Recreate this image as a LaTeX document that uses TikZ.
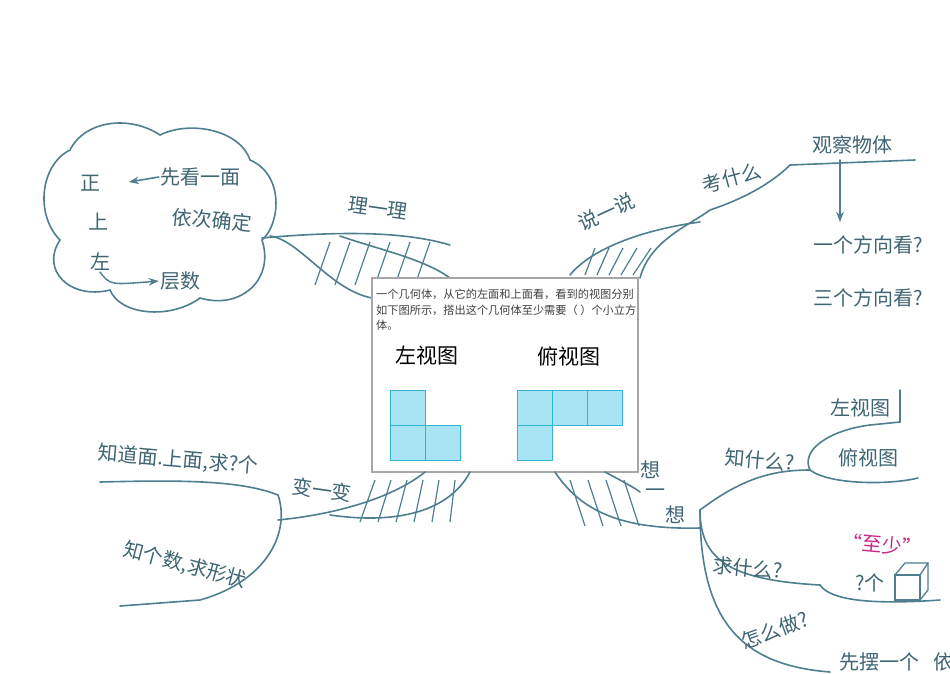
\documentclass[tikz,border=0pt]{standalone}
\usepackage{fontspec}
\setmainfont{Noto Sans CJK SC}
\usetikzlibrary{arrows.meta,patterns}
\definecolor{ink}{HTML}{4F7E90}
\definecolor{cub}{HTML}{A9E4F5}
\definecolor{cubd}{HTML}{2FB3D6}
\begin{document}
\begin{tikzpicture}[x=1pt,y=-1pt,
  br/.style={draw=ink,line width=1.6pt,line cap=round},
  hat/.style={draw=ink,line width=1.2pt},
  tx/.style={text=ink!80!black,font=\fontsize{20}{20}\selectfont,inner sep=1pt},
  cell/.style={draw=cubd,fill=cub,line width=1pt,minimum size=35pt,inner sep=0pt}]
\useasboundingbox (0,0) rectangle (950,673);
\fill[white] (0,0) rectangle (950,673);
% cloud
\draw[br] (70,150) .. controls (85,120) and (130,115) .. (160,135)
 .. controls (190,120) and (240,130) .. (250,160)
 .. controls (285,175) and (280,225) .. (262,240)
 .. controls (275,280) and (240,310) .. (200,298)
 .. controls (170,320) and (120,315) .. (110,290)
 .. controls (70,300) and (40,270) .. (60,240)
 .. controls (35,215) and (40,165) .. (70,150) -- cycle;
\node[tx] (zheng) at (90,183) {正};
\node[tx] (xk) at (200,177) {先看一面};
\draw[br,-{Stealth}] (xk.west) -- ++(-30,5);
\node[tx] (shang) at (98,222) {上};
\node[tx] (yc) at (212,220) [rotate=-5] {依次确定};
\node[tx] (zuo) at (100,262) {左};
\node[tx] (cs) at (180,281) {层数};
\draw[br,densely dotted,-{Stealth}] (zuo.south) .. controls (110,285) .. (cs.west);
% 理一理 branch
\node[tx] (lyl) at (378,208) [rotate=-8] {理一理};
\draw[br] (262,238) .. controls (330,232) and (400,230) .. (450,245);
\draw[br] (270,236) .. controls (300,240) and (330,290) .. (372,298);
\draw[br] (340,236) .. controls (380,250) and (430,260) .. (455,282);
\foreach \i in {0,...,5}{\draw[hat] (315+\i*20,285) -- (330+\i*20,242);}
% center box
\fill[white] (372,278) rectangle (638,472);
% 说一说 branch
\node[tx] (sys) at (606,212) [rotate=25] {说一说};
\node[tx] (ksm) at (732,178) [rotate=15] {考什么};
\node[tx] (gc) at (852,145) {观察物体};
\draw[br] (640,278) .. controls (650,240) and (690,225) .. (710,210)
 .. controls (740,200) and (770,185) .. (790,165) -- (915,160);
\draw[br] (570,275) .. controls (590,250) and (640,230) .. (700,222);
\foreach \i in {0,...,4}{\draw[hat] (585+\i*12,275) -- (595+\i*14,248);}
\node[tx] (yg) at (868,245) {一个方向看?};
\node[tx] (sg) at (868,298) {三个方向看?};
\draw[br,-{Stealth}] (840,160) -- (840,222);
% box
\draw[gray!70,line width=1.3pt] (372,278) rectangle (638,472);
\node[anchor=north west,align=left,font=\fontsize{11.2}{15.5}\selectfont,text=black!75,inner sep=0pt] (q) at (376,289) {一个几何体，从它的左面和上面看，看到的视图分别\\如下图所示，搭出这个几何体至少需要（ ）个小立方\\体。};
\node[font=\fontsize{21}{21}\selectfont] (lv) at (427,356) {左视图};
\node[font=\fontsize{21}{21}\selectfont] (tv) at (569,356) {俯视图};
\node[cell] (a1) at (407.5,407.5) {};
\node[cell] (a2) at (407.5,442.5) {};
\node[cell] (a3) at (442.5,442.5) {};
\node[cell] (b1) at (534.5,407.5) {};
\node[cell] (b2) at (569.5,407.5) {};
\node[cell] (b3) at (604.5,407.5) {};
\node[cell] (b4) at (534.5,442.5) {};
% 变一变
\node[tx] (bb) at (322,490) [rotate=-8] {变一变};
\node[tx] (zd) at (178,460) [rotate=-5] {知道面.上面,求?个};
\node[tx] (zg) at (185,565) [rotate=-15] {知个数,求形状};
\draw[br] (100,482) .. controls (180,480) and (240,480) .. (278,495);
\draw[br] (278,495) .. controls (290,530) and (270,580) .. (200,600) -- (120,606);
\draw[br] (278,520) .. controls (330,515) and (390,500) .. (425,472);
\draw[br] (330,515) .. controls (400,525) and (450,510) .. (470,472);
\foreach \i in {0,...,5}{\draw[hat] (360+\i*18,522) -- (375+\i*16,480);}
% 想一想
\node[tx] (x1) at (650,470) {想};
\node[tx] (x2) at (655,493) {一};
\node[tx] (x3) at (675,515) {想};
\draw[br] (555,472) .. controls (580,510) and (620,530) .. (700,528);
\draw[br] (605,472) .. controls (620,480) and (635,488) .. (640,492);
\foreach \i in {0,...,3}{\draw[hat] (570+\i*18,480) -- (585+\i*18,526);}
\draw[br] (700,510) .. controls (740,480) and (770,470) .. (810,470)
 .. controls (800,450) and (830,430) .. (870,425) -- (900,422);
\draw[br] (810,470) .. controls (830,485) and (890,485) .. (918,478);
\draw[br] (900,422) -- (900,390);
\draw[br] (700,510) .. controls (700,560) and (730,580) .. (820,585)
 .. controls (830,600) and (870,605) .. (940,600);
\draw[br] (700,510) .. controls (700,620) and (740,665) .. (830,672);
\node[tx] (zsm) at (760,460) [rotate=-5] {知什么?};
\node[tx] (zst) at (860,408) {左视图};
\node[tx] (fst) at (868,458) {俯视图};
\node[tx] (qsm) at (748,568) [rotate=-5] {求什么?};
\node[tx,text=magenta!80!black] (zs) at (882,545) [rotate=-5] {“至少”};
\node[tx] (gge) at (870,583) {?个};
\draw[br,line width=1.3pt] (895,575) rectangle (920,600);
\draw[br,line width=1.3pt] (895,575) -- (905,563) -- (928,563) -- (928,590) -- (920,600);
\draw[br,line width=1.3pt] (920,575) -- (928,563);
\node[tx] (zmz) at (775,630) [rotate=20] {怎么做?};
\node[tx,anchor=west] (xb) at (838,662) {先摆一个};
\node[tx,anchor=west] (yi) at (932,662) {依};
\end{tikzpicture}
\end{document}
